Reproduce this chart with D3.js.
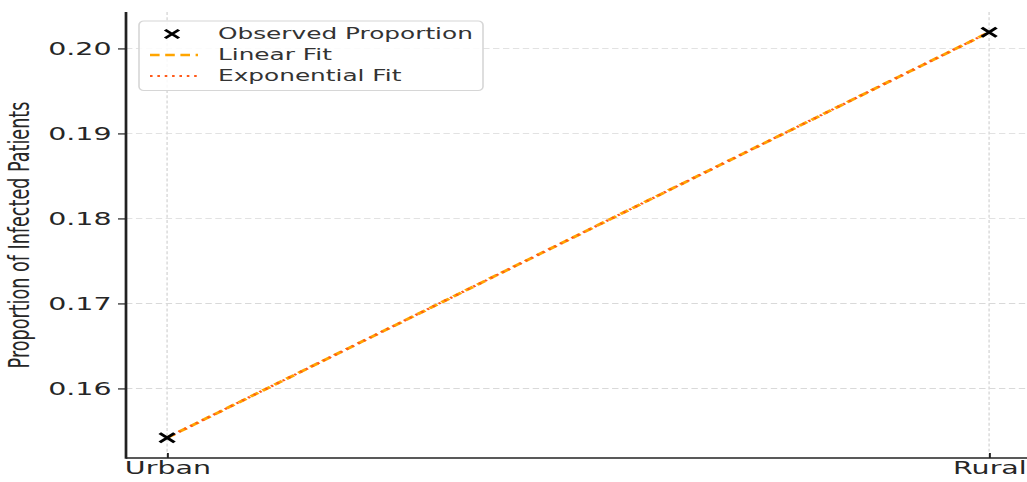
<!DOCTYPE html>
<html>
<head>
<meta charset="utf-8">
<script src="https://cdn.jsdelivr.net/npm/d3@7"></script>
<style>
  html, body { margin: 0; padding: 0; background: #fff; }
  svg { display: block; }
  text { font-family: "DejaVu Sans", sans-serif; }
</style>
</head>
<body>
<svg id="chart" width="1027" height="482"></svg>
<script>
// Data
const categories = ["Urban", "Rural"];
const observed = [0.1542, 0.2019];
const linearFit = [0.1542, 0.2019];
const exponentialFit = [0.1542, 0.2019];
const yTicks = [0.16, 0.17, 0.18, 0.19, 0.20];
const legendLabels = ["Observed Proportion", "Linear Fit", "Exponential Fit"];

// The figure is drawn in a narrower frame and stretched horizontally.
const SX = 1.6;
const W = 1027, H = 482;
const px = v => v / SX;   // horizontal pixel -> inner units

const svg = d3.select("#chart");
const g = svg.append("g").attr("transform", `scale(${SX},1)`);

const plotLeft = px(126), plotBottom = 458, plotTop = 12;
const lo = d3.min(observed), hi = d3.max(observed), pad = (hi - lo) * 0.05;

const x = d3.scalePoint().domain(categories).range([plotLeft, px(1030.2)]).padding(0.05);
const y = d3.scaleLinear().domain([lo - pad, hi + pad]).range([plotBottom, plotTop]);

// Grid
g.append("g").selectAll("line").data(yTicks).join("line")
  .attr("x1", plotLeft).attr("x2", px(W))
  .attr("y1", d => y(d)).attr("y2", d => y(d))
  .attr("stroke", "#d9d9d9").attr("stroke-width", 0.9)
  .attr("stroke-dasharray", "4,2.2");
g.append("g").selectAll("line").data(categories).join("line")
  .attr("x1", d => x(d)).attr("x2", d => x(d))
  .attr("y1", plotTop).attr("y2", plotBottom)
  .attr("stroke", "#d9d9d9").attr("stroke-width", 0.9)
  .attr("stroke-dasharray", "3,2.2");

// Fit lines
const line = d3.line().x((d, i) => x(categories[i])).y(d => y(d));
g.append("path").datum(linearFit).attr("d", line)
  .attr("fill", "none").attr("stroke", "#ffa500").attr("stroke-width", 2.6)
  .attr("stroke-dasharray", "6,3.5");
g.append("path").datum(exponentialFit).attr("d", line)
  .attr("fill", "none").attr("stroke", "#ff5a1a").attr("stroke-width", 2.1)
  .attr("stroke-dasharray", "1.6,3");

// Observed markers
function cross(sel, cx, cy, r) {
  sel.append("path")
    .attr("d", `M${cx - r},${cy - r}L${cx + r},${cy + r}M${cx - r},${cy + r}L${cx + r},${cy - r}`)
    .attr("stroke", "#000").attr("stroke-width", 2.3).attr("fill", "none");
}
observed.forEach((v, i) => cross(g, x(categories[i]), y(v), 4.6));

// Y axis
const yAxis = d3.axisLeft(y).tickValues(yTicks).tickFormat(d3.format(".2f")).tickSize(5).tickPadding(4);
const ya = g.append("g").attr("transform", `translate(${plotLeft},0)`).call(yAxis);
ya.select(".domain").remove();
ya.selectAll(".tick line").attr("stroke", "#222").attr("stroke-width", 1.2);
ya.selectAll(".tick text").attr("font-size", 17.8).attr("fill", "#262626")
  .attr("font-family", "DejaVu Sans");

// X axis
const xAxis = d3.axisBottom(x).tickSize(0).tickPadding(0);
const xa = g.append("g").attr("transform", `translate(0,${plotBottom})`).call(xAxis);
xa.select(".domain").remove();
xa.selectAll(".tick text").attr("font-size", 17.8).attr("fill", "#262626")
  .attr("font-family", "DejaVu Sans").attr("dy", null).attr("y", 16);
xa.selectAll(".tick").append("line")
  .attr("y1", -5).attr("y2", 0).attr("stroke", "#222").attr("stroke-width", 1.2);

// Spines
g.append("line").attr("x1", plotLeft).attr("x2", plotLeft).attr("y1", plotTop).attr("y2", plotBottom + 0.8)
  .attr("stroke", "#222").attr("stroke-width", 1.7);
g.append("line").attr("x1", plotLeft).attr("x2", px(W)).attr("y1", plotBottom).attr("y2", plotBottom)
  .attr("stroke", "#222").attr("stroke-width", 1.7);

// Y label
g.append("text")
  .attr("transform", `translate(${px(29)},${(plotTop + plotBottom) / 2}) rotate(-90)`)
  .attr("text-anchor", "middle").attr("font-size", 17.6).attr("fill", "#262626")
  .text("Proportion of Infected Patients");

// Legend
const lg = g.append("g");
lg.append("rect").attr("x", px(139)).attr("y", 21).attr("width", px(483) - px(139)).attr("height", 69.5)
  .attr("rx", 3).attr("ry", 4)
  .attr("fill", "#fff").attr("fill-opacity", 0.85).attr("stroke", "#d6d6d6").attr("stroke-width", 1);
const rowsY = [34, 55, 76];
cross(lg, px(172), rowsY[0], 4.3);
lg.append("line").attr("x1", px(150)).attr("x2", px(198)).attr("y1", rowsY[1]).attr("y2", rowsY[1])
  .attr("stroke", "#ffa500").attr("stroke-width", 2.4).attr("stroke-dasharray", "6,3.5");
lg.append("line").attr("x1", px(150)).attr("x2", px(198)).attr("y1", rowsY[2]).attr("y2", rowsY[2])
  .attr("stroke", "#ff5a1a").attr("stroke-width", 2).attr("stroke-dasharray", "1.6,3");
lg.selectAll("text.lab").data(legendLabels).join("text").attr("class", "lab")
  .attr("x", px(218)).attr("y", (d, i) => rowsY[i] + 5.3)
  .attr("font-size", 15.5).attr("fill", "#333")
  .text(d => d);
</script>
</body>
</html>
